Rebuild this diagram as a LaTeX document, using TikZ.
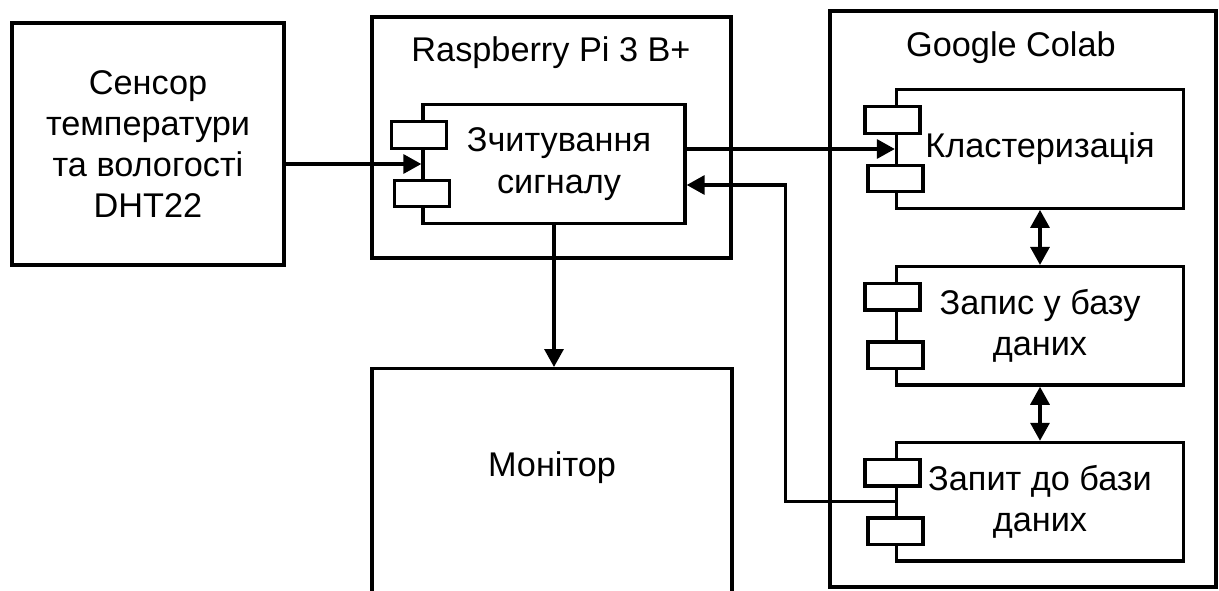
\documentclass[tikz,border=0pt]{standalone}
\usepackage{fontspec}
\setmainfont{Liberation Sans}
\usetikzlibrary{arrows.meta,positioning}

\begin{document}
\begin{tikzpicture}[box/.style={rectangle, draw, line width=1.9pt, align=center, font=\fontsize{19.5}{23.5}\selectfont, inner sep=0pt},
                    comp/.style={box, minimum width=5.74cm, minimum height=2.37cm},
                    port/.style={rectangle, draw, line width=1.9pt, fill=white, minimum width=1.1cm, minimum height=0.53cm, inner sep=0pt},
                    title/.style={font=\fontsize{19.5}{23.5}\selectfont, inner sep=0pt},
                    arr/.style={line width=1.9pt, -{Triangle[length=0.36cm,width=0.38cm]}},
                    dbl/.style={line width=1.9pt, {Triangle[length=0.36cm,width=0.38cm]}-{Triangle[length=0.36cm,width=0.38cm]}},
                    node distance=1.1cm]

\useasboundingbox (0,0) rectangle (24.38,-11.8);
\clip (0,0) rectangle (24.38,-11.8);

% Outer blocks
\node[box, minimum width=5.44cm, minimum height=4.84cm] (sensor) at (2.96,-2.88) {Сенсор\\температури\\та вологості\\DHT22};
\node[box, minimum width=7.18cm, minimum height=4.82cm] (raspi) at (11.03,-2.75) {};
\node[title] (raspititle) at (11.02,-1.06) {Raspberry Pi 3 B+};
\node[box, minimum width=7.2cm, minimum height=5.06cm, anchor=north] (monitor) at (11.04,-7.34) {};
\node[title] (montext) at ([yshift=-2.02cm]monitor.north) {Монітор};
\node[box, minimum width=7.72cm, minimum height=11.52cm] (colab) at (20.46,-5.98) {};
\node[title] (colabtitle) at (20.22,-0.95) {Google Colab};

% Components
\node[comp, minimum width=5.24cm] (read) at (11.08,-3.28) {\hspace*{0.2cm}Зчитування\\\hspace*{0.2cm}сигналу};
\node[comp] (clust) at (20.8,-2.98) {Кластеризація};
\node[comp, below=1.1cm of clust] (store) {Запис у базу\\даних};
\node[comp, below=1.08cm of store] (query) {Запит до бази\\даних};

% Connections
\draw[arr] (sensor.east |- read.west) -- (read.west);
\draw[arr] (read.east |- clust.west) -- (clust.west);
\draw[arr] (query.west) -| ([xshift=1.97cm,yshift=-0.42cm]read.east) -- ([yshift=-0.42cm]read.east);
\draw[arr] (read.south) -- (read.south |- monitor.north);
\draw[dbl] (clust.south) -- (store.north);
\draw[dbl] (store.south) -- (query.north);

% Component ports
\foreach \c in {read,clust,store,query}{
  \node[port] (\c-top) at ([shift={(-0.05,0.58)}]\c.west) {};
  \node[port] (\c-bot) at ([shift={(0.01,-0.59)}]\c.west) {};
}

\end{tikzpicture}
\end{document}
